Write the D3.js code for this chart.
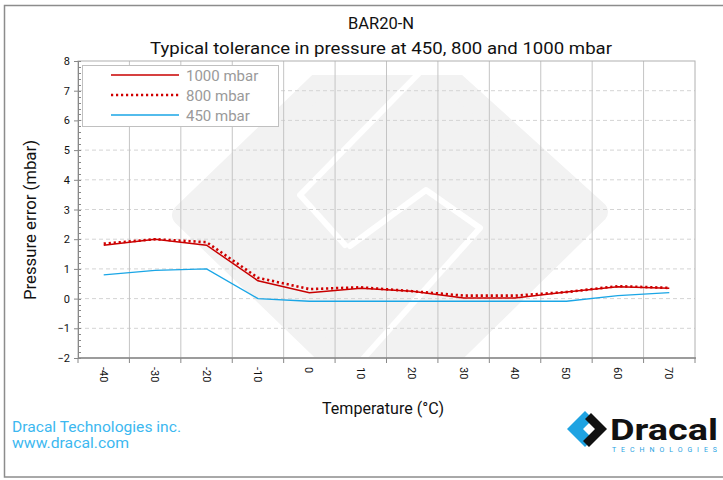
<!DOCTYPE html>
<html>
<head>
<meta charset="utf-8">
<script src="https://cdn.jsdelivr.net/npm/d3@7"></script>
<style>
  body { margin: 0; background: #fff; }
  svg text { font-family: Roboto, "Liberation Sans", sans-serif; }
</style>
</head>
<body>
<svg id="chart" width="723" height="480"></svg>
<script>
// chart data
var temps = [-40, -30, -20, -10, 0, 10, 20, 30, 40, 50, 60, 70];
var err1000 = [1.8, 2.0, 1.8, 0.6, 0.2, 0.35, 0.25, 0.02, 0.02, 0.22, 0.4, 0.35];
var err800 = [1.85, 2.0, 1.9, 0.7, 0.32, 0.38, 0.25, 0.1, 0.1, 0.22, 0.42, 0.36];
var err450 = [0.8, 0.95, 1.0, 0.0, -0.09, -0.09, -0.09, -0.09, -0.09, -0.09, 0.1, 0.2];
var seriesNames = ["1000 mbar", "800 mbar", "450 mbar"];
var yTicks = [-2, -1, 0, 1, 2, 3, 4, 5, 6, 7, 8];

var svg = d3.select("#chart");

var plotL = 78, plotR = 695, plotT = 61, plotB = 358;

var x = d3.scaleBand().domain(temps).range([plotL, plotR]);
var y = d3.scaleLinear().domain([-2, 8]).range([plotB, plotT]);

// outer frame
svg.append("rect")
    .attr("x", 4.5).attr("y", 5.5)
    .attr("width", 740).attr("height", 471.5)
    .attr("fill", "none").attr("stroke", "#8c8c8c").attr("stroke-width", 1.5);

// titles
svg.append("text")
    .attr("x", 381).attr("y", 29)
    .attr("text-anchor", "middle")
    .attr("font-size", 17).attr("fill", "#111")
    .attr("textLength", 66).attr("lengthAdjust", "spacingAndGlyphs")
    .text("BAR20-N");
svg.append("text")
    .attr("x", 381).attr("y", 54)
    .attr("text-anchor", "middle")
    .attr("font-size", 17).attr("fill", "#111")
    .attr("textLength", 462).attr("lengthAdjust", "spacingAndGlyphs")
    .text("Typical tolerance in pressure at 450, 800 and 1000 mbar");

// watermark (Dracal logo, light grey)
var clip = svg.append("clipPath").attr("id", "plotclip");
clip.append("rect").attr("x", plotL).attr("y", 75).attr("width", plotR - plotL).attr("height", plotB - 75);

var wm = svg.append("g").attr("clip-path", "url(#plotclip)");
wm.append("path")
    .attr("d", "M183,215 L385,20 L597,212 L390,415 Z")
    .attr("fill", "#f2f2f2").attr("stroke", "#f2f2f2")
    .attr("stroke-width", 22).attr("stroke-linejoin", "round");
wm.append("path")
    .attr("d", "M426,66 L300,195 L345,245")
    .attr("fill", "none").attr("stroke", "#fff")
    .attr("stroke-width", 6).attr("stroke-linejoin", "round").attr("stroke-linecap", "round");
wm.append("path")
    .attr("d", "M350,246 L426,190 L480,228 L362,360")
    .attr("fill", "none").attr("stroke", "#fff")
    .attr("stroke-width", 6).attr("stroke-linejoin", "round").attr("stroke-linecap", "round");

// horizontal dashed grid
svg.append("g").selectAll("line")
    .data(yTicks.filter(function(d) { return d > -2 && d < 8; }))
    .join("line")
    .attr("x1", plotL).attr("x2", plotR)
    .attr("y1", function(d) { return y(d); }).attr("y2", function(d) { return y(d); })
    .attr("stroke", "#d4d4d4").attr("stroke-dasharray", "4,3");

// vertical grid at category boundaries
var bounds = temps.slice(1).map(function(t) { return x(t); });
svg.append("g").selectAll("line")
    .data(bounds)
    .join("line")
    .attr("x1", function(d) { return d; }).attr("x2", function(d) { return d; })
    .attr("y1", plotT).attr("y2", plotB)
    .attr("stroke", "#c4c4c4");

// plot border
svg.append("rect")
    .attr("x", plotL).attr("y", plotT)
    .attr("width", plotR - plotL).attr("height", plotB - plotT)
    .attr("fill", "none").attr("stroke", "#b0b0b0");

// y axis
var yAxis = d3.axisLeft(y).tickValues(yTicks).tickSize(4).tickFormat(d3.format("d"));
var yg = svg.append("g").attr("transform", "translate(" + plotL + ",0)").call(yAxis);
yg.select(".domain").attr("stroke", "#888");
yg.selectAll(".tick line").attr("stroke", "#888");
yg.selectAll(".tick text")
    .attr("font-family", "DejaVu Sans, sans-serif")
    .attr("font-size", 11).attr("fill", "#111").attr("x", -8);

// minor ticks
var minor = d3.range(-2, 8.001, 0.2);
svg.append("g").selectAll("line")
    .data(minor)
    .join("line")
    .attr("x1", plotL).attr("x2", plotL + 3)
    .attr("y1", function(d) { return Math.round(y(d)) + 0.5; })
    .attr("y2", function(d) { return Math.round(y(d)) + 0.5; })
    .attr("stroke", "#888");

// x axis
svg.append("line")
    .attr("x1", plotL).attr("x2", plotR + 1)
    .attr("y1", plotB).attr("y2", plotB)
    .attr("stroke", "#888").attr("stroke-width", 1.5);
svg.append("g").selectAll("line")
    .data([plotL].concat(bounds).concat([plotR]))
    .join("line")
    .attr("x1", function(d) { return d; }).attr("x2", function(d) { return d; })
    .attr("y1", plotB).attr("y2", plotB + 5)
    .attr("stroke", "#888");
svg.append("g").selectAll("text")
    .data(temps)
    .join("text")
    .attr("transform", function(d) {
        return "translate(" + (x(d) + x.bandwidth() / 2 - 4) + "," + (plotB + 9) + ") rotate(90)";
    })
    .attr("font-family", "DejaVu Sans, sans-serif")
    .attr("font-size", 11).attr("fill", "#111")
    .text(function(d) { return d; });

// axis titles
svg.append("text")
    .attr("transform", "translate(36,220) rotate(-90)")
    .attr("text-anchor", "middle")
    .attr("font-size", 17).attr("fill", "#111")
    .attr("textLength", 160).attr("lengthAdjust", "spacingAndGlyphs")
    .text("Pressure error (mbar)");
svg.append("text")
    .attr("x", 383).attr("y", 414)
    .attr("text-anchor", "middle")
    .attr("font-size", 17).attr("fill", "#111")
    .attr("textLength", 122).attr("lengthAdjust", "spacingAndGlyphs")
    .text("Temperature (°C)");

// lines
var line = d3.line()
    .x(function(d, i) { return x(temps[i]) + x.bandwidth() / 2; })
    .y(function(d) { return y(d); });

svg.append("path").datum(err450)
    .attr("d", line).attr("fill", "none")
    .attr("stroke", "#1aa6e6").attr("stroke-width", 1.4);
svg.append("path").datum(err1000)
    .attr("d", line).attr("fill", "none")
    .attr("stroke", "#c80000").attr("stroke-width", 1.5);
svg.append("path").datum(err800)
    .attr("d", line).attr("fill", "none")
    .attr("stroke", "#d00000").attr("stroke-width", 2.6)
    .attr("stroke-dasharray", "2.2,2.8");

// legend
var lg = svg.append("g");
lg.append("rect")
    .attr("x", 82.5).attr("y", 65.5).attr("width", 196).attr("height", 61)
    .attr("fill", "#fff").attr("stroke", "#c0c0c0");
var legStyles = [
    { color: "#c80000", width: 1.5, dash: null },
    { color: "#d00000", width: 2.6, dash: "2.2,2.8" },
    { color: "#1aa6e6", width: 1.4, dash: null }
];
seriesNames.forEach(function(name, i) {
    var ly = 75 + i * 20;
    lg.append("line")
        .attr("x1", 111).attr("x2", 179).attr("y1", ly).attr("y2", ly)
        .attr("stroke", legStyles[i].color).attr("stroke-width", legStyles[i].width)
        .attr("stroke-dasharray", legStyles[i].dash);
    lg.append("text")
        .attr("x", 186).attr("y", ly + 5.5)
        .attr("font-size", 15).attr("fill", "#9a9a9a")
        .text(name);
});

// footer
svg.append("text")
    .attr("x", 12).attr("y", 432)
    .attr("font-size", 14).attr("fill", "#3cb8f0")
    .attr("textLength", 169).attr("lengthAdjust", "spacingAndGlyphs")
    .text("Dracal Technologies inc.");
svg.append("text")
    .attr("x", 12).attr("y", 448)
    .attr("font-size", 14).attr("fill", "#3cb8f0")
    .attr("textLength", 117).attr("lengthAdjust", "spacingAndGlyphs")
    .text("www.dracal.com");

// logo
var logo = svg.append("g");
logo.append("path")
    .attr("d", "M585,411 L567,429 L585,447 L593,439 L583,429 L593,419 Z")
    .attr("fill", "#1fa3e2");
logo.append("path")
    .attr("d", "M591,413 L607,429 L589,447 L583,441 L595,429 L585,419 Z")
    .attr("fill", "#111");
logo.append("text")
    .attr("x", 610).attr("y", 440)
    .attr("font-size", 30).attr("font-weight", "bold").attr("fill", "#111")
    .attr("textLength", 108).attr("lengthAdjust", "spacingAndGlyphs")
    .text("Dracal");
logo.append("text")
    .attr("x", 612).attr("y", 452)
    .attr("font-size", 7).attr("fill", "#1fa3e2")
    .attr("textLength", 105).attr("lengthAdjust", "spacing")
    .text("TECHNOLOGIES");
</script>
</body>
</html>
